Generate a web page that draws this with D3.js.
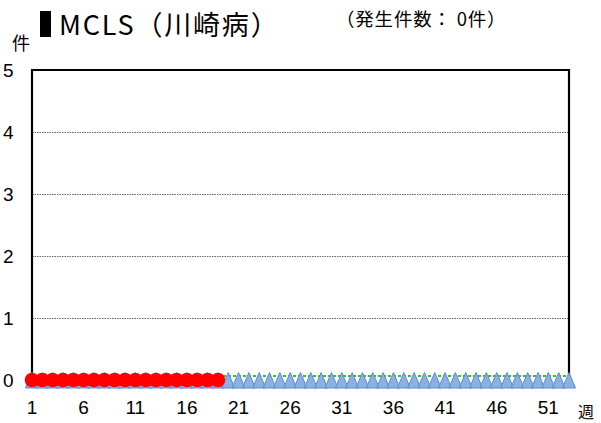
<!DOCTYPE html>
<html><head><meta charset="utf-8">
<script src="https://cdn.jsdelivr.net/npm/d3@7"></script>
<style>
html,body{margin:0;padding:0;background:#fff;}
svg{display:block;}
</style></head>
<body>
<svg id="c" width="601" height="423"></svg>
<script>
// ---- data ----
const weeks = [1,2,3,4,5,6,7,8,9,10,11,12,13,14,15,16,17,18,19,20,21,22,23,24,25,26,27,28,29,30,31,32,33,34,35,36,37,38,39,40,41,42,43,44,45,46,47,48,49,50,51,52,53];
const xTickLabels = [1,6,11,16,21,26,31,36,41,46,51];
const yTicks = [0,1,2,3,4,5];
const currentYear = [0,0,0,0,0,0,0,0,0,0,0,0,0,0,0,0,0,0,0]; // weeks 1-19
const pastAverage = [0,0,0,0,0,0,0,0,0,0,0,0,0,0,0,0,0,0,0,0,0,0,0,0,0,0,0,0,0,0,0,0,0,0,0,0,0,0,0,0,0,0,0,0,0,0,0,0,0,0,0,0,0];
const pastLine = [0,0,0,0,0,0,0,0,0,0,0,0,0,0,0,0,0,0,0,0,0,0,0,0,0,0,0,0,0,0,0,0,0,0,0,0,0,0,0,0,0,0,0,0,0,0,0,0,0,0,0,0,0];
const titleText = "MCLS（川崎病）";
const subtitleText = "（発生件数： 0件）";

// ---- layout ----
const svg = d3.select("#c");
const L = 32, R = 569, T = 70, B = 380;
const x = d3.scalePoint().domain(weeks).range([L, R]);
const y = d3.scaleLinear().domain([0, 5]).range([B, T]);
const numFont = "'Liberation Sans', Arial, sans-serif";
const jpFont = "'Noto Sans CJK JP', sans-serif";

// gridlines
svg.append("g").selectAll("line").data(yTicks.filter(d => d > 0 && d < 5)).join("line")
  .attr("x1", L).attr("x2", R).attr("y1", d => y(d) + 0.5).attr("y2", d => y(d) + 0.5)
  .attr("stroke", "#666").attr("stroke-width", 1).attr("stroke-dasharray", "1.5,1");

// frame
svg.append("path")
  .attr("d", `M${L},${y(0)}V${y(5)}H${R}V${y(0)}`)
  .attr("fill", "none").attr("stroke", "#000").attr("stroke-width", 2.2);

// y labels
svg.append("g").selectAll("text").data(yTicks).join("text")
  .attr("x", 3).attr("y", d => y(d) + 7)
  .attr("font-family", numFont).attr("font-size", 19).attr("fill", "#000")
  .text(d => d);

// x labels
svg.append("g").selectAll("text").data(xTickLabels).join("text")
  .attr("x", d => x(d)).attr("y", 414).attr("text-anchor", "middle")
  .attr("font-family", numFont).attr("font-size", 19).attr("fill", "#000")
  .text(d => d);

// green line (behind)
const gLine = d3.line().x((d, i) => x(weeks[i])).y(d => y(d) - 4);
svg.append("path").datum(pastLine)
  .attr("d", gLine).attr("transform", "translate(1,0)")
  .attr("fill", "none").attr("stroke", "#22cc22").attr("stroke-width", 2)
  .attr("stroke-dasharray", "3,2");

// blue triangles
svg.append("g").selectAll("path").data(pastAverage).join("path")
  .attr("transform", (d, i) => `translate(${x(weeks[i])},${y(d)})`)
  .attr("d", "M0,-7.5L6.5,8L-6.5,8Z")
  .attr("fill", "#8cb0e2").attr("stroke", "#5b8ad4").attr("stroke-width", 1);

// red circles
svg.append("g").selectAll("circle").data(currentYear).join("circle")
  .attr("cx", (d, i) => x(weeks[i])).attr("cy", d => y(d))
  .attr("r", 7.3).attr("fill", "#ff0000");

// title
svg.append("rect").attr("x", 40).attr("y", 11).attr("width", 11).attr("height", 26).attr("fill", "#000");
svg.append("text").attr("x", 59).attr("y", 35)
  .attr("font-family", jpFont).attr("font-size", 27).attr("letter-spacing", 1.8).attr("fill", "#000")
  .text(titleText);
svg.append("text").attr("x", 336).attr("y", 26)
  .attr("font-family", jpFont).attr("font-size", 18.5).attr("letter-spacing", 0.8).attr("fill", "#000")
  .text(subtitleText);
svg.append("text").attr("x", 12).attr("y", 50)
  .attr("font-family", jpFont).attr("font-size", 18).attr("fill", "#000")
  .text("件");
svg.append("text").attr("x", 578).attr("y", 418)
  .attr("font-family", jpFont).attr("font-size", 16).attr("fill", "#000")
  .text("週");
</script>
</body></html>
